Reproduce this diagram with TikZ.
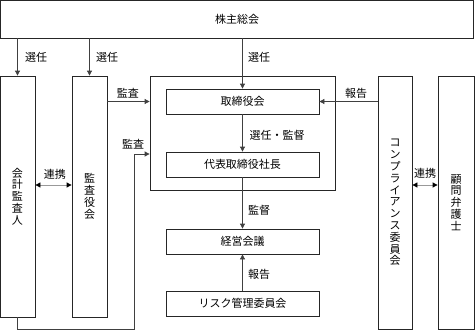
\documentclass[tikz,border=0pt]{standalone}
\usepackage{fontspec}
\setmainfont{Noto Sans CJK JP}
\usetikzlibrary{arrows.meta}

\tikzset{
  orgbox/.style={draw=black!85, line width=0.8pt, inner sep=0pt, font=\fontsize{11}{11.8}\selectfont, align=center},
  flow/.style={draw=black!75, line width=0.8pt, -{Triangle[length=5pt, width=5pt]}},
  link/.style={draw=black!40, line width=0.8pt, {Triangle[length=5pt, width=5pt, color=black]}-{Triangle[length=5pt, width=5pt, color=black]}},
  tag/.style={font=\fontsize{11}{13}\selectfont, inner sep=0pt}
}

\begin{document}
\begin{tikzpicture}[x=1pt, y=-1pt]

  \useasboundingbox (0,0) rectangle (475,330);

  % -- Shareholders' meeting --
  \node[orgbox, minimum width=473pt, minimum height=38pt] (agm) at (237,19) {株主総会};

  % -- Left column --
  \node[orgbox, minimum width=35pt, minimum height=241pt] (auditor) at (17.5,196.5) {会\\計\\監\\査\\人};
  \node[orgbox, minimum width=35pt, minimum height=241pt] (kansa) at (89.5,196.5) {監\\査\\役\\会};

  % -- Board frame --
  \node[orgbox, minimum width=185pt, minimum height=114pt] (frame) at (242.5,133) {};
  \node[orgbox, minimum width=153pt, minimum height=25pt] (board) at (242.5,101.5) {取締役会};
  \node[orgbox, minimum width=153pt, minimum height=25pt] (ceo) at (242.5,164.5) {代表取締役社長};

  % -- Lower boxes --
  \node[orgbox, minimum width=153pt, minimum height=25pt] (mgmt) at (242.5,241.5) {経営会議};
  \node[orgbox, minimum width=153pt, minimum height=25pt] (risk) at (242.5,303.5) {リスク管理委員会};

  % -- Right column --
  \node[orgbox, minimum width=34pt, minimum height=253pt] (comp) at (395,202.5) {コ\\ン\\プ\\ラ\\イ\\ア\\ン\\ス\\委\\員\\会};
  \node[orgbox, minimum width=36pt, minimum height=253pt] (lawyer) at (456,202.5) {顧\\問\\弁\\護\\士};

  % -- Elections --
  \draw[flow] (agm.south -| auditor) -- (auditor.north);
  \node[tag] at (36,57) {選任};
  \draw[flow] (agm.south -| kansa) -- (kansa.north);
  \node[tag] at (107,57) {選任};
  \draw[flow] (agm.south -| board) -- (board.north);
  \node[tag] at (259,57) {選任};

  % -- Inside the board --
  \draw[flow] (board) -- (ceo);
  \node[tag] at (277,135) {選任・監督};
  \draw[flow] (ceo) -- (mgmt);
  \node[tag] at (259,210) {監督};
  \draw[flow] (risk) -- (mgmt);
  \node[tag] at (259,274) {報告};

  % -- Audit lines --
  \draw[flow] (kansa.east |- board) -- (frame.west |- board);
  \node[tag] at (128,93) {監査};
  \coordinate (audturn) at (134,329);
  \draw[flow] (auditor.south) |- (audturn) -- (audturn |- 0,154) -- (frame.west |- 0,154);
  \node[tag] at (133,144) {監査};

  % -- Report from compliance --
  \draw[flow] (comp.west |- board) -- (board.east);
  \node[tag] at (356,93) {報告};

  % -- Cooperation --
  \draw[link] (auditor.east |- 0,185) -- (kansa.west |- 0,185);
  \node[tag] at (55,174) {連携};
  \draw[link] (comp.east |- 0,185) -- (lawyer.west |- 0,185);
  \node[tag] at (425,173) {連携};

\end{tikzpicture}
\end{document}
